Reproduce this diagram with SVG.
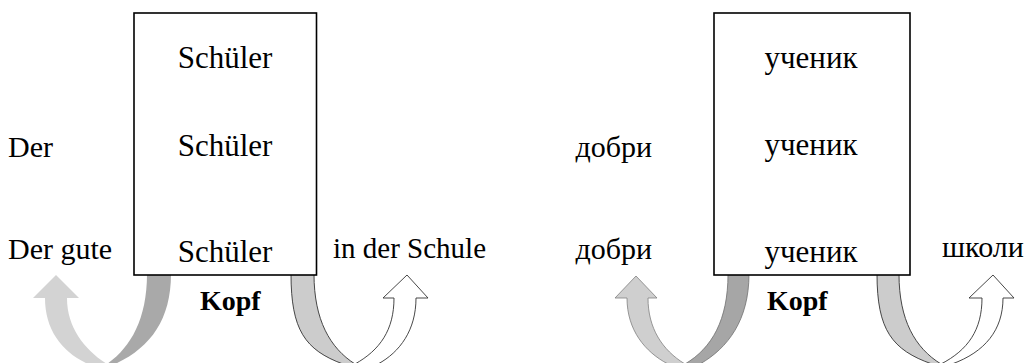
<svg xmlns="http://www.w3.org/2000/svg" width="1024" height="363" viewBox="0 0 1024 363">
  <style>
    .t { font-family: "Liberation Serif", "Times New Roman", serif; font-size: 31px; fill: #000; }
    .s { font-family: "Liberation Serif", "Times New Roman", serif; font-size: 30px; fill: #000; }
    .b { font-family: "Liberation Serif", "Times New Roman", serif; font-size: 28px; font-weight: bold; fill: #000; }
    .box { fill: #fff; stroke: #000; stroke-width: 1.6; }
    .dark { fill: #a9a9a9; }
    .light { fill: #d3d3d3; }
    .darkO { fill: #a6a6a6; stroke: #707070; stroke-width: 0.8; }
    .lightO { fill: #cfcfcf; stroke: #808080; stroke-width: 0.8; }
    .grayO { fill: #cccccc; stroke: #333; stroke-width: 0.9; }
    .whiteO { fill: #fff; stroke: #333; stroke-width: 0.9; }
  </style>
  <rect width="1024" height="363" fill="#fff"/>
  <g id="connectors">
    <path class="dark" d="M147,274 L171,274 C171,320 150,348 115,364 L107,364 C130,348 147,320 147,274 Z"/>
    <path class="light" d="M107,364 C85,350 67,328 67,298 L79,298 L56,275 L33,298 L45,298 C45,330 62,352 88,364 Z"/>
    <path class="grayO" d="M291,274 L314,274 C314,320 330,348 355,364 L343,364 C305,350 291,330 291,274 Z"/>
    <path class="whiteO" d="M355,364 C380,350 394,330 394,298 L383,298 L407,275 L428,298 L416,298 C416,330 400,352 378,364 Z"/>
    <path class="darkO" d="M728,274 L749,274 C749,320 728,348 700,364 L685,364 C712,348 728,320 728,274 Z"/>
    <path class="lightO" d="M685,364 C662,350 648,328 648,298 L657,298 L636,276 L615,298 L627,298 C627,330 645,352 668,364 Z"/>
    <path class="grayO" d="M877,274 L899,274 C899,320 915,348 941,364 L932,364 C892,350 877,330 877,274 Z"/>
    <path class="whiteO" d="M941,364 C968,350 982,330 982,298 L969,298 L993,275 L1014,298 L1003,298 C1003,330 985,352 952,364 Z"/>
  </g>
  <g id="node-left">
    <rect class="box" x="134" y="13" width="182.5" height="262"/>
    <text class="t" x="225" y="68" text-anchor="middle">Schüler</text>
    <text class="t" x="225" y="156" text-anchor="middle">Schüler</text>
    <text class="t" x="225" y="262" text-anchor="middle">Schüler</text>
  </g>
  <g id="node-right">
    <rect class="box" x="714" y="13" width="196" height="262"/>
    <text class="t" x="811" y="68" text-anchor="middle">ученик</text>
    <text class="t" x="811" y="155" text-anchor="middle">ученик</text>
    <text class="t" x="811" y="262" text-anchor="middle">ученик</text>
  </g>
  <g id="labels-left">
    <text class="s" x="8" y="157">Der</text>
    <text class="s" x="8" y="259">Der gute</text>
    <text class="s" x="333" y="258" style="font-size:29px">in der Schule</text>
    <text class="b" x="200" y="310">Kopf</text>
  </g>
  <g id="labels-right">
    <text class="s" x="652" y="157" text-anchor="end">добри</text>
    <text class="s" x="652" y="259" text-anchor="end">добри</text>
    <text class="s" x="942" y="257">школи</text>
    <text class="b" x="767" y="310">Kopf</text>
  </g>
</svg>
